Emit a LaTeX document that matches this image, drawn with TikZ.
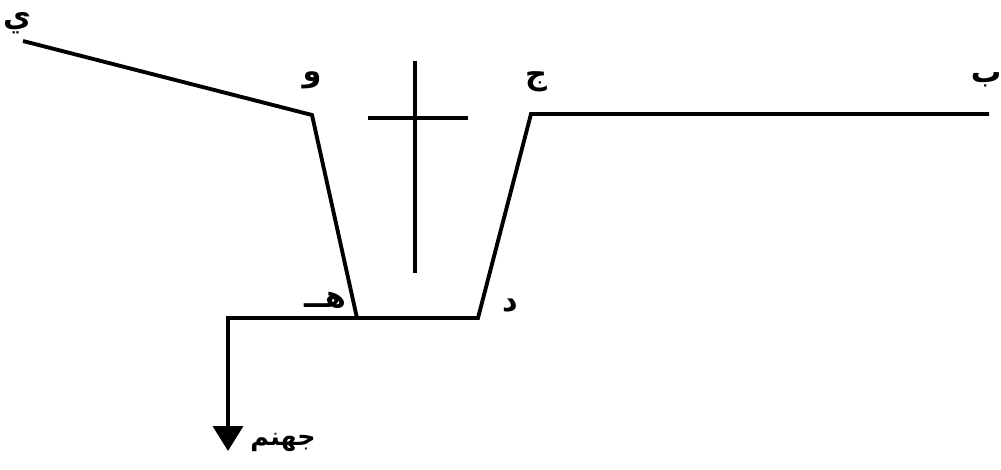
\documentclass[tikz,border=0pt]{standalone}
\usepackage{fontspec}
\newfontfamily\arabicfont[Script=Arabic]{DejaVu Sans}
\TeXXeTstate=1
\usetikzlibrary{arrows.meta}
\tikzset{
  path line/.style={line width=2.2pt, line join=miter},
  letter/.style={font=\arabicfont\bfseries\LARGE, inner sep=0pt}
}
\newcommand{\ar}[1]{\beginR #1\endR}
\begin{document}
\begin{tikzpicture}[x=0.02cm, y=-0.02cm]
        \useasboundingbox (0,0) rectangle (1001,470);

        % corners of the path
        \coordinate (yaa) at (23,41);
        \coordinate (waw) at (312,115);
        \coordinate (haa) at (357,318);
        \coordinate (dal) at (478,318);
        \coordinate (jim) at (531,114);
        \coordinate (baa) at (989,114);
        \coordinate (turn) at (228,318);
        \coordinate (hell) at (228,451);

        % main path from baa to yaa
        \draw[path line] (baa) -- (jim) -- (dal) -- (haa) -- (waw) -- (yaa);

        % branch down to hell
        \draw[path line, -{Triangle[length=0.5cm, width=0.6cm]}] (haa) -- (turn) -- (hell);

        % the cross
        \coordinate (crossTop) at (415,61);
        \coordinate (crossBot) at (415,273);
        \coordinate (crossL) at (368,118);
        \coordinate (crossR) at (468,118);
        \draw[path line] (crossTop) -- (crossBot);
        \draw[path line] (crossL) -- (crossR);

        % letters
        \node[letter] (lyaa) at (17,23) {\ar{ي}};
        \node[letter] (lwaw) at (312,80) {\ar{و}};
        \node[letter] (ljim) at (536,82) {\ar{ج}};
        \node[letter] (lbaa) at (986,80) {\ar{ب}};
        \node[letter] (lhaa) at (325,300) {\ar{هــ}};
        \node[letter] (ldal) at (510,306) {\ar{د}};
        \node[letter, font=\arabicfont\bfseries\Large] (lhell) at (283,443) {\ar{جهنم}};

    \end{tikzpicture}
\end{document}
